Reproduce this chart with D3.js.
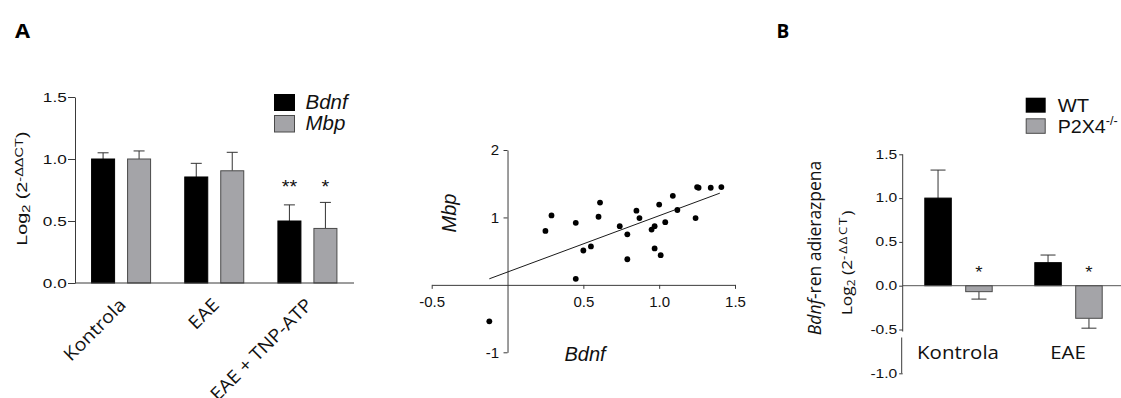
<!DOCTYPE html>
<html><head><meta charset="utf-8">
<script src="https://cdn.jsdelivr.net/npm/d3@7"></script>
<style>body{margin:0;background:#fff}svg{display:block}</style>
</head><body>
<svg id="c" width="1121" height="398"></svg>
<script>
// ---------- Panel A: bar chart ----------
const groupsA = ["Kontrola", "EAE", "EAE + TNP-ATP"];
const seriesA = ["Bdnf", "Mbp"];
const bdnfA = [1.0, 0.855, 0.50];
const bdnfErrA = [0.05, 0.11, 0.13];
const mbpA = [1.0, 0.905, 0.44];
const mbpErrA = [0.065, 0.149, 0.21];
const starsBdnfA = ["", "", "**"];
const starsMbpA = ["", "", "*"];
const ticksA = [0, 0.5, 1.0, 1.5];

// ---------- Panel A: scatter ----------
const scatBdnf = [-0.12, 0.25, 0.29, 0.45, 0.45, 0.50, 0.55, 0.60, 0.61, 0.74, 0.79, 0.79, 0.85, 0.87,
                  0.95, 0.97, 0.97, 1.00, 1.01, 1.04, 1.09, 1.12, 1.24, 1.25, 1.26, 1.34, 1.41];
const scatMbp  = [-0.54, 0.80, 1.03, 0.92, 0.09, 0.51, 0.57, 1.01, 1.22, 0.87, 0.75, 0.38, 1.10, 0.99,
                  0.82, 0.87, 0.54, 1.19, 0.44, 0.93, 1.32, 1.11, 0.99, 1.45, 1.44, 1.44, 1.45];
const fitBdnf = [-0.12, 1.40];
const fitMbp = [0.09, 1.36];
const ticksSX = [-0.5, 0.5, 1.0, 1.5];
const ticksSY = [-1, 1, 2];

// ---------- Panel B ----------
const groupsB = ["Kontrola", "EAE"];
const seriesB = ["WT", "P2X4"];
const wtB = [1.0, 0.263];
const wtErrB = [0.32, 0.087];
const p2x4B = [-0.068, -0.372];
const p2x4ErrB = [0.085, 0.113];
const starsWtB = ["", ""];
const starsP2x4B = ["*", "*"];
const ticksB = [-1.0, -0.5, 0.0, 0.5, 1.0, 1.5];

const ARIAL = "'Liberation Sans', Arial, sans-serif";
const CAL = "'Open Sans', sans-serif";
const AXC = "#3a3a3a";
const GRAY = "#a4a4a8";
const svg = d3.select("#c");

function T(parent, x, y, o) {
  o = Object.assign({rot: 0, sx: 1, anchor: "start", size: 14, family: ARIAL, weight: "normal", style: "normal", fill: "#111"}, o);
  return parent.append("text")
    .attr("transform", `translate(${x},${y}) rotate(${o.rot}) scale(${o.sx},1)`)
    .attr("text-anchor", o.anchor).attr("font-size", o.size).attr("font-family", o.family)
    .attr("font-weight", o.weight).attr("font-style", o.style).attr("fill", o.fill);
}
function span(t, s, o) {
  const sp = t.append("tspan").text(s);
  if (o) for (const k in o) sp.attr(k, o[k]);
  return sp;
}
function styleAxis(g, size, sx, family, off, vertical) {
  g.select(".domain").attr("stroke", AXC).attr("stroke-width", 1);
  g.selectAll(".tick line").attr("stroke", AXC).attr("stroke-width", 1);
  const t = g.selectAll(".tick text").attr("font-size", size).attr("font-family", family).attr("fill", "#111");
  if (vertical) t.attr("x", null).attr("transform", `translate(${-off},0) scale(${sx},1)`);
  else t.attr("y", null).attr("dy", null).attr("transform", `translate(0,${off}) scale(${sx},1)`);
}

// ===== Panel letters =====
T(svg, 15, 37.5, {size: 19.5, family: CAL, weight: "bold", sx: 1.12, fill: "#000"}).text("A");
T(svg, 776.5, 37.5, {size: 19, family: CAL, weight: "bold", sx: 1.0, fill: "#000"}).text("B");

// ===== Panel A bars =====
const yA = d3.scaleLinear().domain([0, 1.5]).range([283, 97]);
const xA = d3.scaleBand().domain(groupsA).range([74.5, 354]).padding(0);
const sA = d3.scaleBand().domain(seriesA).range([-30, 30]).paddingInner(0.333);
const valsA = {Bdnf: bdnfA, Mbp: mbpA};
const errsA = {Bdnf: bdnfErrA, Mbp: mbpErrA};
const starsA = {Bdnf: starsBdnfA, Mbp: starsMbpA};
const gA = svg.append("g");
groupsA.forEach((grp, i) => {
  const cx = xA(grp) + xA.bandwidth() / 2;
  seriesA.forEach(s => {
    const v = valsA[s][i], e = errsA[s][i];
    const x0 = cx + sA(s), bw = sA.bandwidth(), mx = x0 + bw / 2;
    gA.append("line").attr("x1", mx).attr("x2", mx).attr("y1", yA(v)).attr("y2", yA(v + e)).attr("stroke", "#333");
    gA.append("line").attr("x1", mx - 5.5).attr("x2", mx + 5.5).attr("y1", yA(v + e)).attr("y2", yA(v + e)).attr("stroke", "#333");
    gA.append("rect").attr("x", x0 + 0.5).attr("y", yA(v)).attr("width", bw - 1).attr("height", yA(0) - yA(v))
      .attr("fill", s === "Bdnf" ? "#000" : GRAY).attr("stroke", s === "Bdnf" ? "#000" : "#4a4a4a");
    if (starsA[s][i]) T(gA, mx, 193, {anchor: "middle", size: 18, sx: 1.1}).text(starsA[s][i]);
  });
});
const axAy = svg.append("g").attr("transform", "translate(75,0)")
  .call(d3.axisLeft(yA).tickValues(ticksA).tickFormat(d => d.toFixed(1)).tickSize(7).tickSizeOuter(0));
styleAxis(axAy, 13, 1.32, ARIAL, 8.3, true);
svg.append("line").attr("x1", 75).attr("x2", 354).attr("y1", yA(0)).attr("y2", yA(0)).attr("stroke", AXC);
groupsA.forEach(grp => {
  const cx = xA(grp) + xA.bandwidth() / 2;
  T(svg, cx + 6, 306, {rot: -45, anchor: "end", size: 18, family: CAL, sx: 1.1}).text(grp);
});
// y label A
{
  const t = T(svg, 27.3, 188.7, {rot: -90, anchor: "middle", size: 15, sx: 1.32});
  span(t, "Log");
  span(t, "2", {"font-size": 11, dy: 3});
  span(t, " (2", {dy: -3});
  span(t, "-ΔΔCT", {"font-size": 11, dy: -4});
  span(t, ")", {dy: 4});
}
// legend A
svg.append("rect").attr("x", 274).attr("y", 94).attr("width", 21).attr("height", 17).attr("fill", "#000");
svg.append("rect").attr("x", 274.5).attr("y", 115.5).attr("width", 20).attr("height", 16.5).attr("fill", GRAY).attr("stroke", "#4a4a4a");
T(svg, 305.5, 108.5, {size: 19.5, style: "italic", sx: 1.05}).text(seriesA[0]);
T(svg, 305.5, 129.5, {size: 19.5, style: "italic", sx: 1.05}).text(seriesA[1]);

// ===== Scatter =====
const sx = d3.scaleLinear().domain([-0.5, 1.5]).range([431.7, 735]);
const sy = d3.scaleLinear().domain([-1, 2]).range([352.3, 150]);
const axSx = svg.append("g").attr("transform", `translate(0,${sy(0)})`)
  .call(d3.axisBottom(sx).tickValues(ticksSX).tickFormat(d => d.toFixed(1)).tickSize(4).tickSizeOuter(0));
styleAxis(axSx, 15, 1.0, ARIAL, 21.7, false);
const axSy = svg.append("g").attr("transform", `translate(${sx(0)},0)`)
  .call(d3.axisLeft(sy).tickValues(ticksSY).tickFormat(d => String(d)).tickSize(4).tickSizeOuter(0));
styleAxis(axSy, 15, 1.0, ARIAL, 8.5, true);
svg.append("line").attr("x1", sx(fitBdnf[0])).attr("y1", sy(fitMbp[0])).attr("x2", sx(fitBdnf[1])).attr("y2", sy(fitMbp[1]))
  .attr("stroke", "#1a1a1a").attr("stroke-width", 1);
svg.append("g").selectAll("circle").data(scatBdnf).join("circle")
  .attr("cx", d => sx(d)).attr("cy", (d, i) => sy(scatMbp[i])).attr("r", 2.9).attr("fill", "#000");
T(svg, 456, 213, {rot: -90, anchor: "middle", size: 20, style: "italic"}).text("Mbp");
T(svg, 585, 360.7, {anchor: "middle", size: 20, style: "italic"}).text("Bdnf");

// ===== Panel B =====
const yB = d3.scaleLinear().domain([-1, 1.5]).range([373.3, 154.3]);
const xB = d3.scaleBand().domain(groupsB).range([903.5, 1123.5]).padding(0);
const sB = d3.scaleBand().domain(seriesB).range([-34.2, 34.2]).paddingInner(0.328);
const valsB = {WT: wtB, P2X4: p2x4B};
const errsB = {WT: wtErrB, P2X4: p2x4ErrB};
const starsBB = {WT: starsWtB, P2X4: starsP2x4B};
const gB = svg.append("g");
svg.append("line").attr("x1", 902.7).attr("x2", 1121).attr("y1", yB(0)).attr("y2", yB(0)).attr("stroke", "#555");
groupsB.forEach((grp, i) => {
  const cx = xB(grp) + xB.bandwidth() / 2;
  seriesB.forEach(s => {
    const v = valsB[s][i], e = errsB[s][i], sg = v >= 0 ? 1 : -1;
    const x0 = cx + sB(s), bw = sB.bandwidth(), mx = x0 + bw / 2;
    const ye = yB(v + sg * e);
    gB.append("line").attr("x1", mx).attr("x2", mx).attr("y1", yB(v)).attr("y2", ye).attr("stroke", "#333");
    gB.append("line").attr("x1", mx - 7.5).attr("x2", mx + 7.5).attr("y1", ye).attr("y2", ye).attr("stroke", "#333");
    gB.append("rect").attr("x", x0 + 0.5).attr("y", yB(Math.max(v, 0))).attr("width", bw - 1)
      .attr("height", Math.abs(yB(v) - yB(0)))
      .attr("fill", s === "WT" ? "#000" : GRAY).attr("stroke", s === "WT" ? "#000" : "#4a4a4a");
    if (starsBB[s][i]) T(gB, mx, 278, {anchor: "middle", size: 17, sx: 1.1}).text(starsBB[s][i]);
  });
  T(svg, cx - 0.5, 359, {anchor: "middle", size: 17.8, family: CAL, sx: 1.15}).text(grp);
});
const axBy = svg.append("g").attr("transform", "translate(902.7,0)")
  .call(d3.axisLeft(yB).tickValues(ticksB).tickFormat(d => d.toFixed(1)).tickSize(3.5).tickSizeOuter(0));
styleAxis(axBy, 12, 1.3, ARIAL, 5.4, true);
// axis break near the bottom of the B y axis
axBy.select(".domain").remove();
axBy.append("line").attr("x1", 0).attr("x2", 0).attr("y1", yB(1.5)).attr("y2", yB(-0.5) + 2).attr("stroke", AXC);
axBy.append("line").attr("x1", -1).attr("x2", -1).attr("y1", yB(-0.5) + 8).attr("y2", yB(-1)).attr("stroke", AXC);
// y label B
{
  const t1 = T(svg, 821, 248, {rot: -90, anchor: "middle", size: 18, family: CAL, sx: 0.97});
  span(t1, "Bdnf", {"font-style": "italic"});
  span(t1, "-ren adierazpena");
  const t2 = T(svg, 851.7, 263, {rot: -90, anchor: "middle", size: 14.5, family: CAL, sx: 1.2});
  span(t2, "Log");
  span(t2, "2", {"font-size": 10, dy: 3});
  span(t2, " (2", {dy: -3});
  span(t2, "-ΔΔCT", {"font-size": 11, dy: -5, "letter-spacing": 1.5});
  span(t2, ")", {dy: 5});
}
// legend B
svg.append("rect").attr("x", 1025.7).attr("y", 97.7).attr("width", 20).attr("height", 15).attr("fill", "#000");
svg.append("rect").attr("x", 1026.2).attr("y", 118.8).attr("width", 19).attr("height", 14.5).attr("fill", GRAY).attr("stroke", "#4a4a4a");
T(svg, 1057.7, 111.7, {size: 18.7, sx: 1.08}).text("WT");
{
  const t = T(svg, 1057.7, 133, {size: 18.7, sx: 1.05});
  span(t, "P2X4");
  span(t, "-/-", {"font-size": 12, dy: -8});
}
</script>
</body></html>
